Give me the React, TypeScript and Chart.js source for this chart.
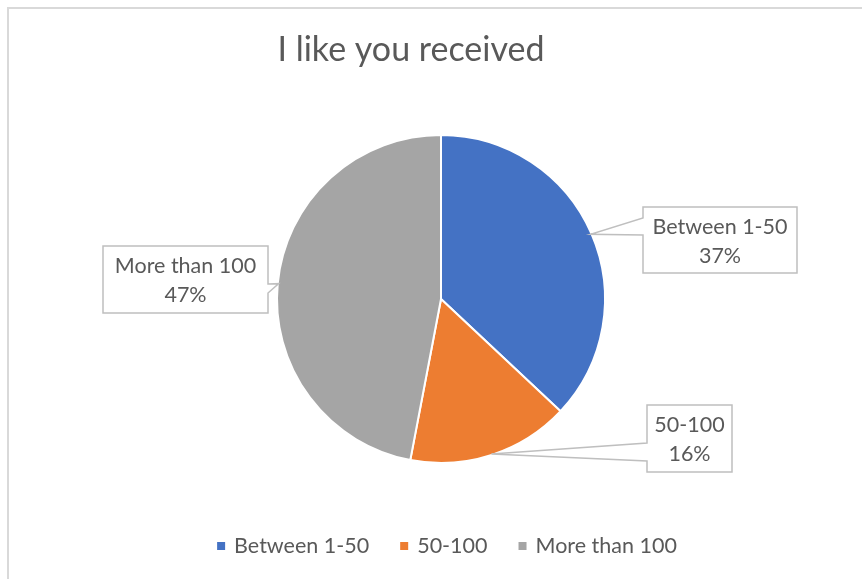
import React, { useEffect, useRef } from "react";
import { Chart, registerables } from "chart.js";

Chart.register(...registerables);

const chartTitle = "I like you received";
const categories = ["Between 1-50", "50-100", "More than 100"];
const values = [37, 16, 47];
const colors = ["#4472C4", "#ED7D31", "#A5A5A5"];

const FONT = "Lato, 'Liberation Sans', sans-serif";
const TEXT = "#595959";

// callout boxes: [x, y, w, h], pointer side and base offsets
const callouts = [
  { x: 643, y: 207, w: 154, h: 66, side: "left", b1: 11, b2: 28 },
  { x: 647, y: 405, w: 85, h: 67, side: "left", b1: 38, b2: 56 },
  { x: 103, y: 246, w: 165, h: 67, side: "right", b1: 38, b2: 47 },
];

const overlay = {
  id: "overlay",
  beforeDraw(chart: any) {
    const ctx = chart.ctx;
    ctx.save();
    ctx.fillStyle = "#fff";
    ctx.fillRect(0, 0, chart.width, chart.height);
    ctx.strokeStyle = "#d9d9d9";
    ctx.lineWidth = 2;
    ctx.beginPath();
    ctx.moveTo(8, chart.height);
    ctx.lineTo(8, 8);
    ctx.lineTo(chart.width, 8);
    ctx.stroke();
    // title
    ctx.fillStyle = TEXT;
    ctx.font = `34px ${FONT}`;
    ctx.textAlign = "center";
    ctx.textBaseline = "alphabetic";
    ctx.fillText(chartTitle, 411, 61);
    ctx.restore();
  },
  afterDraw(chart: any) {
    const ctx = chart.ctx;
    const meta = chart.getDatasetMeta(0);
    const total = values.reduce((a, b) => a + b, 0);
    ctx.save();
    ctx.font = `21.5px ${FONT}`;
    ctx.textAlign = "center";
    ctx.textBaseline = "middle";
    meta.data.forEach((arc: any, i: number) => {
      const p = arc.getProps(["x", "y", "startAngle", "endAngle", "outerRadius"], true);
      const mid = (p.startAngle + p.endAngle) / 2;
      const tx = p.x + Math.cos(mid) * (p.outerRadius - 1);
      const ty = p.y + Math.sin(mid) * (p.outerRadius - 1);
      const c = callouts[i];
      ctx.beginPath();
      ctx.moveTo(c.x, c.y);
      ctx.lineTo(c.x + c.w, c.y);
      if (c.side === "right") {
        ctx.lineTo(c.x + c.w, c.y + c.b1);
        ctx.lineTo(tx, ty);
        ctx.lineTo(c.x + c.w, c.y + c.b2);
      }
      ctx.lineTo(c.x + c.w, c.y + c.h);
      ctx.lineTo(c.x, c.y + c.h);
      if (c.side === "left") {
        ctx.lineTo(c.x, c.y + c.b2);
        ctx.lineTo(tx, ty);
        ctx.lineTo(c.x, c.y + c.b1);
      }
      ctx.closePath();
      ctx.fillStyle = "#fff";
      ctx.fill();
      ctx.strokeStyle = "#bfbfbf";
      ctx.lineWidth = 1.5;
      ctx.stroke();
      ctx.fillStyle = TEXT;
      const cx = c.x + c.w / 2;
      const cy = c.y + c.h / 2;
      ctx.fillText(categories[i], cx, cy - 13);
      ctx.fillText(Math.round((values[i] / total) * 100) + "%", cx, cy + 16);
    });
    // legend
    const sq = 8;
    const gapText = 9;
    const gapItem = 31;
    const widths = categories.map((t) => sq + gapText + ctx.measureText(t).width);
    const totalW = widths.reduce((a, b) => a + b, 0) + gapItem * (categories.length - 1);
    let x = 447 - totalW / 2;
    const ly = 546;
    ctx.textAlign = "left";
    categories.forEach((t, i) => {
      ctx.fillStyle = colors[i];
      ctx.fillRect(x, ly - sq / 2, sq, sq);
      ctx.fillStyle = TEXT;
      ctx.fillText(t, x + sq + gapText, ly);
      x += widths[i] + gapItem;
    });
    ctx.restore();
  },
};

export default function App() {
  const ref = useRef<HTMLCanvasElement>(null);
  useEffect(() => {
    if (!ref.current) return;
    const chart = new Chart(ref.current, {
      type: "pie",
      data: {
        labels: categories,
        datasets: [
          {
            data: values,
            backgroundColor: colors,
            borderColor: "#ffffff",
            borderWidth: 2,
          },
        ],
      },
      options: {
        responsive: false,
        animation: false,
        events: [],
        layout: { padding: { top: 134, bottom: 115, left: 120, right: 100 } },
        plugins: {
          legend: { display: false },
          title: { display: false },
          tooltip: { enabled: false },
        },
      },
      plugins: [overlay],
    });
    return () => chart.destroy();
  }, []);
  return (
    <div style={{ position: "fixed", left: 0, top: 0, width: 862, height: 579, background: "#fff" }}>
      <canvas ref={ref} width={862} height={579} />
    </div>
  );
}
